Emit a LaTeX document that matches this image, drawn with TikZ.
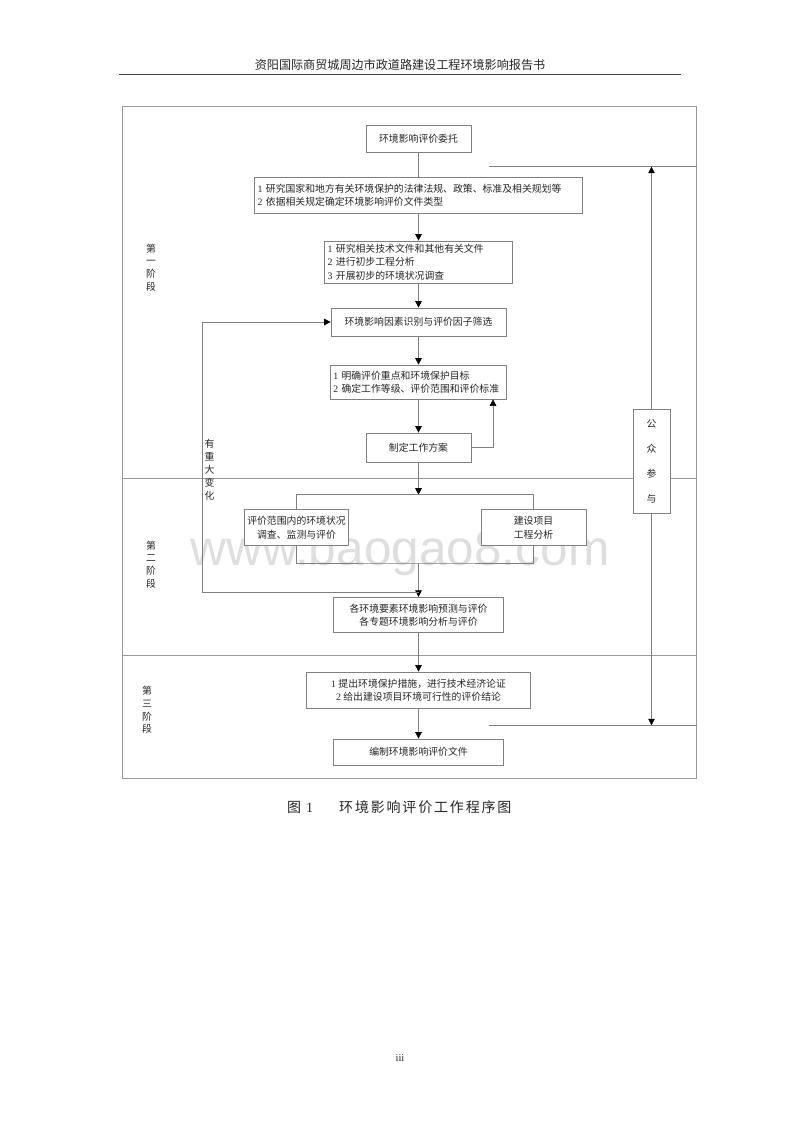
\documentclass[tikz,border=0pt]{standalone}
\usepackage{fontspec}
\setmainfont{Noto Sans CJK SC}
\newfontfamily\latinfont{Liberation Serif}
\newfontfamily\markfont{Liberation Sans}
\newfontfamily\capfont[LetterSpace=13]{Noto Sans CJK SC}
\usetikzlibrary{arrows.meta,positioning}
\newcommand{\nr}[1]{{\latinfont #1}}
\definecolor{linegray}{gray}{0.5}
\definecolor{framegray}{gray}{0.6}
\tikzset{
>={Triangle[length=6.5pt,width=6.5pt,black]}, % black heads of the flow
every node/.style={font=\fontsize{9.85}{13.3}\selectfont, text=black!85},
stepbox/.style={draw=linegray, line width=0.7pt, fill=white, inner xsep=3pt, inner ysep=0pt, align=center},
listbox/.style={stepbox, align=left},
flow/.style={draw=linegray, line width=0.6pt},
stagelabel/.style={font=\fontsize{9.85}{12.8}\selectfont, align=center},
}

\begin{document}
\begin{tikzpicture}[x=1pt,y=-1pt,on grid]
   \useasboundingbox (0,0) rectangle (800,1132);
   \node[anchor=base, font=\fontsize{49.6}{50}\markfont, text=black!13] (mark) at (400,565) {www.baogao8.com};
   % page head and foot
   \node[font=\fontsize{12.1}{14}\selectfont] (head) at (400,64.5) {资阳国际商贸城周边市政道路建设工程环境影响报告书};
   \coordinate (ruleL) at (119,74.5);
   \coordinate (ruleR) at (681,74.5);
   \draw[line width=1.2pt, black!75] (ruleL) -- (ruleR);
   \node[font=\fontsize{10.5}{12}\latinfont] (folio) at (400,1058) {iii};
   % outer frame and stages
   \node[draw=framegray, line width=0.7pt, minimum width=574.5pt, minimum height=672.5pt, inner sep=0pt] (frame) at (409.5,442.5) {};
   \coordinate (cutA) at (122,478);
   \coordinate (cutB) at (122,655);
   \draw[draw=framegray, line width=0.7pt] (cutA) -- (cutA -| frame.east);
   \draw[draw=framegray, line width=1pt] (cutB) -- (cutB -| frame.east);
   \node[stagelabel] (stageA) at (151,267.5) {第\\一\\阶\\段};
   \node[stagelabel] (stageB) at (151,564.5) {第\\二\\阶\\段};
   \node[stagelabel] (stageC) at (147,710) {第\\三\\阶\\段};
   % main column
   \node[stepbox, minimum width=105pt, minimum height=27pt] (entrust) at (418.5,139) {环境影响评价委托};
   \node[listbox, text width=321.6pt, minimum height=36pt] (laws) [below=56pt of entrust] {\nr{1 }研究国家和地方有关环境保护的法律法规、政策、标准及相关规划等\\\nr{2 }依据相关规定确定环境影响评价文件类型};
   \node[listbox, text width=181.6pt, minimum height=42pt] (files) [below=67pt of laws] {\nr{1 }研究相关技术文件和其他有关文件\\\nr{2 }进行初步工程分析\\\nr{3 }开展初步的环境状况调查};
   \node[stepbox, minimum width=175pt, minimum height=28pt] (factors) [below=60pt of files] {环境影响因素识别与评价因子筛选};
   \node[listbox, text width=170.4pt, minimum height=34pt] (goals) [below=60pt of factors] {\nr{1 }明确评价重点和环境保护目标\\\nr{2 }确定工作等级、评价范围和评价标准};
   \node[stepbox, minimum width=105pt, minimum height=29pt] (plan) [below=65.5pt of goals] {制定工作方案};
   \node[stepbox, minimum width=169.5pt, minimum height=35.5pt] (predict) [below=167.5pt of plan] {各环境要素环境影响预测与评价\\各专题环境影响分析与评价};
   \node[stepbox, minimum width=224pt, minimum height=36pt] (measures) [below=75pt of predict] {\nr{1 }提出环境保护措施，进行技术经济论证\\\nr{2 }给出建设项目环境可行性的评价结论};
   \node[stepbox, minimum width=169.5pt, minimum height=26pt] (report) [below=62pt of measures] {编制环境影响评价文件};
   % second stage side boxes
   \node[stepbox, inner xsep=0pt, minimum width=104pt, minimum height=36pt] (survey) at (296.5,527.7) {评价范围内的环境状况\\调查、监测与评价};
   \node[stepbox, minimum width=105pt, minimum height=36pt] (project) [right=237pt of survey] {建设项目\\工程分析};
   \node[stepbox, minimum width=37pt, minimum height=104pt, font=\fontsize{9.85}{25}\selectfont] (public) at (651.5,461) {公\\众\\参\\与};
   % helper points
   \coordinate (fork) at (418.5,494.7);
   \coordinate (merge) at (418.5,563);
   \coordinate (turn) at (418.5,592);
   \coordinate (back) at (202,592);
   \coordinate (tapA) at (488.5,166.7);
   \coordinate (tapB) at (488.5,725.3);
   \coordinate (bend) at (493,447.5);
   \node[stagelabel, font=\fontsize{9.85}{13}\selectfont] (change) at (209.6,470) {有\\重\\大\\变\\化};
   \path[flow]
   (entrust) edge (laws);
   \path[flow,->]
   (laws) edge (files)
   (files) edge (factors)
   (factors) edge (goals)
   (goals) edge (plan)
   (plan) edge (fork)
   (predict) edge (measures)
   (measures) edge (report);
   \draw[flow] (survey.north) |- (fork) -| (project.north);
   \draw[flow] (survey.south) |- (merge) -| (project.south);
   \draw[flow,->] (merge) -- (predict.north);
   \draw[flow,->] (turn) -- (back) |- (factors.west);
   \draw[flow,->] (plan.east) -- (bend) -- (bend |- goals.south);
   \draw[flow] (tapA) -- (tapA -| frame.east);
   \draw[flow] (tapB) -- (tapB -| frame.east);
   \draw[flow,->] (public.north) -- (public.north |- tapA);
   \draw[flow,->] (public.south) -- (public.south |- tapB);
   % caption
   \node[anchor=base west, inner sep=0pt, font=\fontsize{14}{16}\capfont] (capA) at (287,812) {图\hspace{5pt}\nr{1}};
   \node[anchor=base west, inner sep=0pt, font=\fontsize{14}{16}\capfont] (capB) at (339,812) {环境影响评价工作程序图};
\end{tikzpicture}
\end{document}
